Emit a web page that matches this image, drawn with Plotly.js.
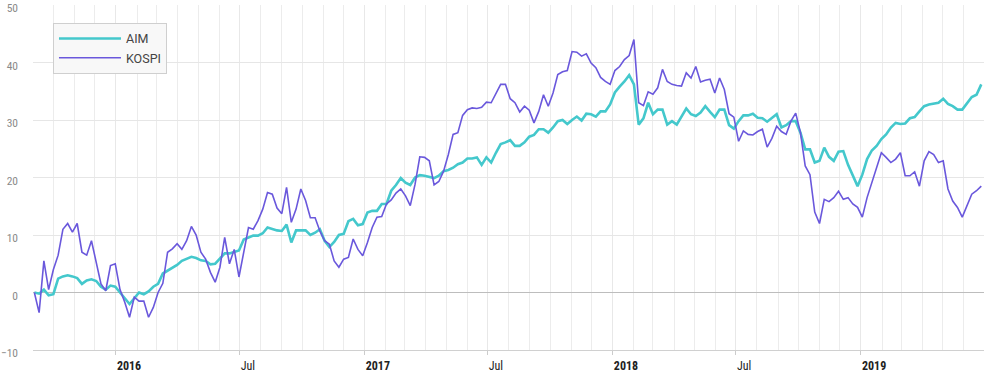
<!DOCTYPE html>
<html>
<head>
<meta charset="utf-8">
<script src="https://cdn.plot.ly/plotly-3.0.1.min.js"></script>
<style>
html,body{margin:0;padding:0;background:#fff;}
#chart{width:984px;height:372px;}
</style>
</head>
<body>
<div id="chart"></div>
<script>
// Weekly observations starting 2015-09-03
const startDate = '2015-09-03';
const stepDays = 7;

const aimValues = [
  0, -0.2, 0.5, -0.5, -0.3, 2.4, 2.8, 3, 2.8, 2.5,
  1.5, 2.1, 2.3, 2, 1, 0.5, 1.2, 1.0, 0, -1.1,
  -2, -1.0, 0, -0.3, 0.2, 1, 1.5, 3.3, 3.8, 4.3,
  4.8, 5.5, 5.9, 6.2, 6, 5.6, 5.5, 4.9, 5, 6,
  6.8, 6.8, 7, 7.3, 9.2, 9.6, 9.9, 9.9, 10.3, 11.3,
  11, 10.8, 10.7, 11.8, 8.7, 10.8, 10.8, 10.8, 10, 10.4,
  11, 9, 7.9, 8.8, 10, 10.2, 12.4, 12.8, 11.7, 11.9,
  13.9, 14.2, 14.2, 15.4, 15.4, 17.7, 18.7, 19.9, 19.1, 18.7,
  20, 20.4, 20.3, 20.1, 19.9, 20.3, 21.1, 21.3, 21.7, 22.3,
  22.6, 23.3, 23.3, 23.5, 22.2, 23.5, 22.6, 24.3, 25.8, 26.1,
  26.5, 25.5, 25.5, 26.1, 27.1, 27.4, 28.4, 28.4, 27.8, 28.7,
  29.8, 30, 29.3, 30, 30.6, 29.9, 31.1, 31, 30.6, 31.5,
  31.5, 32.7, 34.8, 35.8, 36.7, 37.8, 36.2, 29.2, 30.3, 33,
  31, 31.8, 31.8, 29.2, 29.8, 29.2, 30.5, 32, 31, 30.7,
  31.3, 32.4, 31.4, 30.5, 31.8, 31.8, 29.1, 28.5, 29.8, 30.8,
  30.8, 31.1, 30.4, 30.3, 29.7, 30.3, 31, 28.7, 29.1, 29.8,
  29.8, 27.8, 24.9, 24.9, 22.6, 22.9, 25.2, 23.6, 22.9, 24.5,
  24.6, 22.2, 20.3, 18.5, 20.5, 23.2, 24.7, 25.5, 26.7, 27.5,
  28.7, 29.5, 29.3, 29.4, 30.3, 30.5, 31.5, 32.4, 32.7, 32.9,
  33, 33.7, 32.8, 32.4, 31.8, 31.8, 33, 34, 34.4, 36.2
];

const kospiValues = [
  0, -3.5, 5.5, 0.5, 4, 6.5, 11, 12, 10.5, 12,
  7, 6.5, 9, 5, 1.5, 0.3, 4.7, 5, 0.5, -1.7,
  -4.3, -0.8, -1.5, -1.5, -4.3, -2.6, 0, 1.6, 7, 7.6,
  8.5, 7.5, 9, 11.5, 10, 7, 5.8, 3.5, 1.8, 4.4,
  9.6, 5, 7.5, 2.7, 7.3, 11.3, 11, 12.5, 14.5, 17.4,
  17.1, 14.7, 13.7, 18.3, 12.2, 14.5, 18, 16, 13, 13,
  10.7, 9, 8.4, 5.5, 4.4, 5.8, 6.1, 9.3, 7.5, 6.4,
  8.7, 11.3, 13.1, 13.2, 15.4, 16.1, 17.3, 18, 16.8, 15.1,
  18.8, 23.6, 23.5, 22.9, 18.7, 19.3, 21.1, 24, 27.5, 27.8,
  30.8, 31.8, 32.1, 32, 32.2, 33.1, 33, 34.7, 36.2, 36.2,
  33.7, 33, 31.4, 32.4, 31.7, 29.5, 31.5, 34.4, 32.4, 34.7,
  37.9, 38.4, 38.6, 41.9, 41.8, 41.1, 41.5, 39.9, 39.1, 37.4,
  36.7, 36.2, 38.6, 39.3, 40.5, 41.2, 44, 33, 32.5, 34.9,
  34.5, 35.6, 38.8, 36.7, 36.2, 36, 35.9, 38.2, 37.3, 39.3,
  36.6, 36.9, 37.1, 34.7, 37.3, 35.3, 31.1, 30.5, 26.3, 28.1,
  27.5, 27.4, 28, 28.4, 25.3, 26.8, 28.9, 28, 27.5, 29.8,
  31.2, 27.8, 22, 20.5, 14, 12, 16.2, 15.8, 16.5, 17.6,
  16.2, 16.5, 15.4, 14.8, 13.1, 16.5, 19.1, 21.7, 24.3, 23.5,
  22.6, 23.2, 24.3, 20.3, 20.3, 21, 18.5, 22.9, 24.5, 24,
  22.6, 22.9, 18, 15.9, 14.8, 13.1, 15.1, 17.1, 17.7, 18.5
];

const tickDates = ['2016-01-01','2016-07-01','2017-01-01','2017-07-01','2018-01-01','2018-07-01','2019-01-01'];
const tickLabels = ['<b>2016</b>','Jul','<b>2017</b>','Jul','<b>2018</b>','Jul','<b>2019</b>'];
const seriesNames = ['AIM','KOSPI'];

function buildDates(start, n, step){
  const out = [];
  const t0 = Date.parse(start + 'T00:00:00Z');
  for (let i = 0; i < n; i++) {
    out.push(new Date(t0 + i*step*86400000).toISOString().slice(0,10));
  }
  return out;
}
const dates = buildDates(startDate, aimValues.length, stepDays);

const condensed = '"Roboto Condensed", "DejaVu Sans Condensed", "Liberation Sans Narrow", Roboto, sans-serif';

const traces = [
  {x: dates, y: aimValues, name: seriesNames[0], type: 'scatter', mode: 'lines',
   line: {color: '#44c8cc', width: 2.6}},
  {x: dates, y: kospiValues, name: seriesNames[1], type: 'scatter', mode: 'lines',
   line: {color: '#6a58dc', width: 1.6}}
];

const layout = {
  width: 984, height: 372,
  margin: {l: 33, r: 0, t: 5, b: 22, pad: 0},
  paper_bgcolor: '#ffffff', plot_bgcolor: '#ffffff',
  showlegend: true,
  legend: {x: 0.021, y: 0.948, xanchor: 'left', yanchor: 'top',
    bgcolor: '#f8f8f8', bordercolor: '#cfcfcf', borderwidth: 1,
    itemwidth: 62,
    font: {family: 'Roboto, "Open Sans", sans-serif', size: 12.5, color: '#444'},
    tracegroupgap: 0},
  xaxis: {
    type: 'date', range: ['2015-09-01', '2019-07-01'],
    tickmode: 'array', tickvals: tickDates, ticktext: tickLabels,
    ticklabelposition: 'outside right', ticklabelstandoff: 5,
    ticks: 'outside', ticklen: 4, tickcolor: '#cccccc',
    tickfont: {family: condensed, size: 12, color: '#222'},
    showgrid: true, gridcolor: '#e8e8e8', gridwidth: 1,
    minor: {dtick: 'M1', tick0: '2015-01-01', showgrid: true, gridcolor: '#ececec', gridwidth: 1, ticks: ''},
    showline: true, linecolor: '#d0d0d0', linewidth: 1,
    zeroline: false, fixedrange: true
  },
  yaxis: {
    range: [-10, 50], dtick: 10, tick0: 0,
    showgrid: true, gridcolor: '#e6e6e6', gridwidth: 1,
    zeroline: true, zerolinecolor: '#bdbdbd', zerolinewidth: 1.5,
    ticks: '', ticklabelstandoff: 14, ticklabeloverflow: 'allow',
    ticklabelshift: 3,
    tickfont: {family: condensed, size: 11.5, color: '#8a8a8a'},
    showline: false, fixedrange: true
  }
};

Plotly.newPlot('chart', traces, layout, {staticPlot: true, displayModeBar: false});
</script>
</body>
</html>
